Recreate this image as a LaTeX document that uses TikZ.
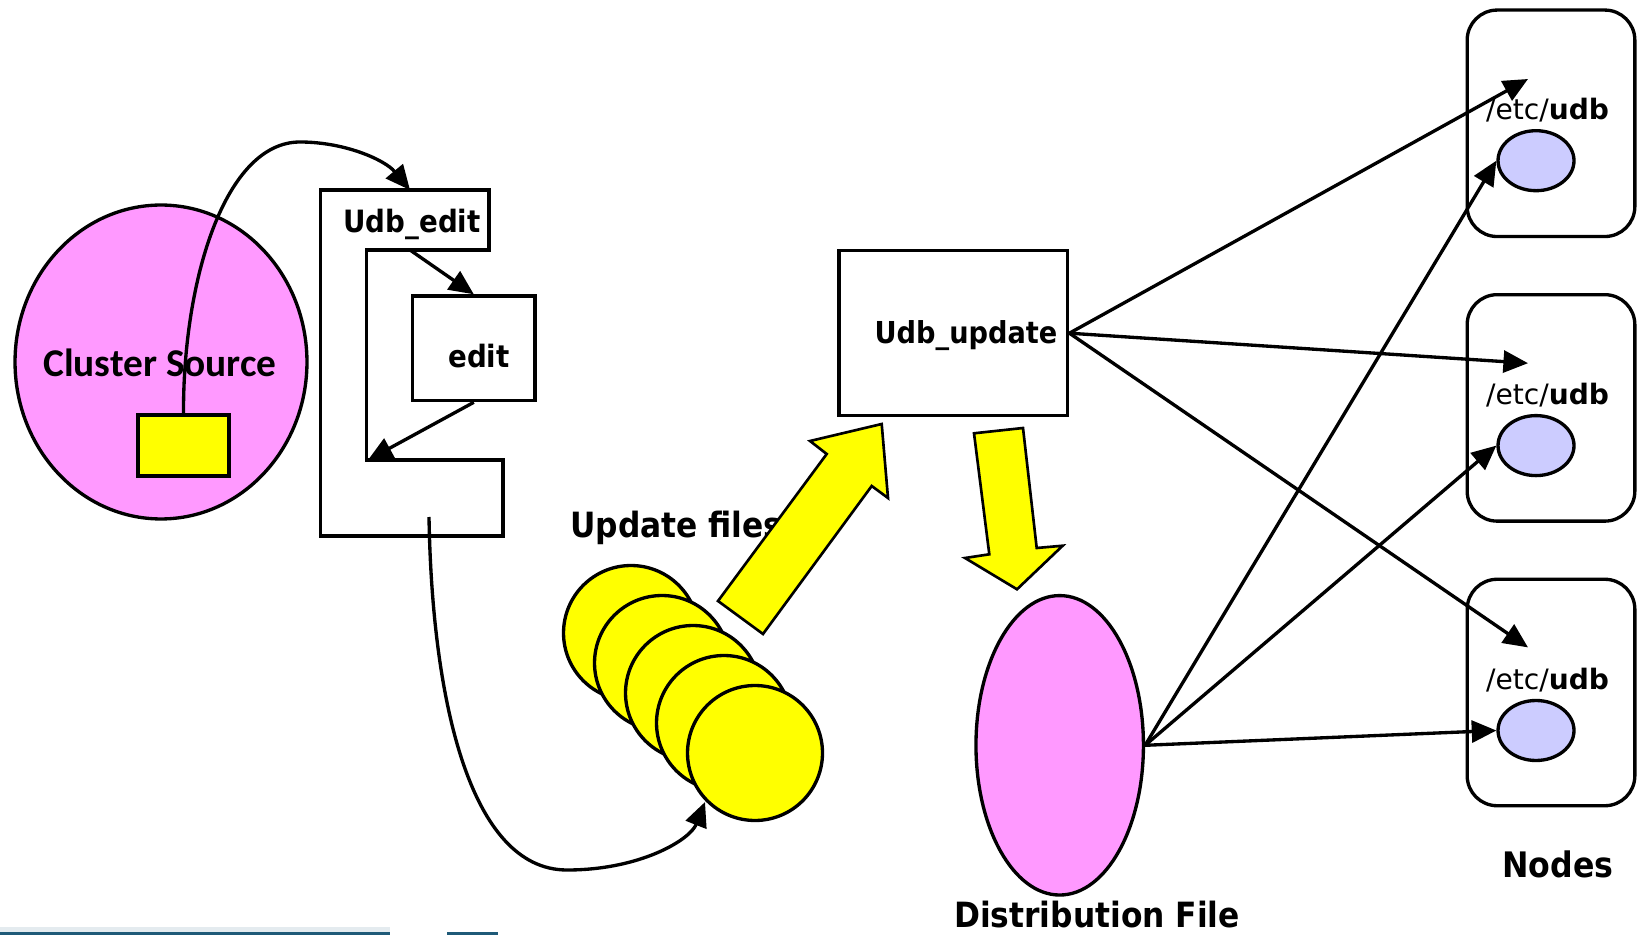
\documentclass[tikz,border=0pt]{standalone}
\usepackage{fontspec}
\setmainfont{DejaVu Sans Condensed}
\newfontfamily\widefont{DejaVu Sans}
\newfontfamily\srcfont{Carlito}
\usepackage{tikz}
\usetikzlibrary{arrows.meta,shapes.geometric}

\definecolor{srcpink}{HTML}{FF99FF}
\definecolor{fileyellow}{HTML}{FFFF00}
\definecolor{nodeblue}{HTML}{CCCCFF}
\definecolor{barblue}{HTML}{1F5A78}

\tikzset{
  outline/.style={draw=black, line width=1.9pt},
  blob/.style={outline, ellipse, inner sep=0pt},
  plainbox/.style={outline, rectangle, inner sep=0pt},
  nodebox/.style={outline, rectangle, rounded corners=0.6cm, inner sep=0pt,
    minimum width=3.354cm, minimum height=4.53cm},
  filedisk/.style={blob, fill=fileyellow, minimum width=2.7cm, minimum height=2.7cm},
  udbdisk/.style={blob, fill=nodeblue, minimum width=1.52cm, minimum height=1.2cm},
  conn/.style={line width=1.9pt, -{Triangle[length=14pt,width=12.5pt]}},
  bigarrow/.style={draw=black, line width=1.5pt, line join=miter, fill=fileyellow},
  txt/.style={inner sep=0pt, font=\bfseries\fontsize{19.8}{22}\selectfont},
  smalltxt/.style={inner sep=0pt, font=\bfseries\fontsize{17.5}{20}\selectfont},
}

\begin{document}
\begin{tikzpicture}[x=0.02cm,y=-0.02cm]
  \useasboundingbox (0,0) rectangle (1639,935);

  % cluster source
  \node[blob, fill=srcpink, minimum width=5.84cm, minimum height=6.28cm] (src) at (161,362) {};
  \node[inner sep=0pt, font=\srcfont\bfseries\fontsize{22.4}{25}\selectfont] (srctxt) at (160,363) {Cluster Source};
  \node[plainbox, fill=fileyellow, minimum width=1.82cm, minimum height=1.22cm] (srcbox) at (183.5,445.5) {};

  % udb_edit frame
  \draw[outline] (320.7,190) -- (489,190) -- (489,250) -- (366.7,250) -- (366.7,460)
    -- (503,460) -- (503,536) -- (320.7,536) -- cycle;
  \node[smalltxt, anchor=base] (uedit) at (412,233) {Udb\_edit};
  \coordinate (uetop) at (410,190);
  \coordinate (uelow) at (410,250);
  \coordinate (uestep) at (368,460);
  \coordinate (uebot) at (429,517);
  \node[plainbox, minimum width=2.446cm, minimum height=2.094cm] (edit) at (473.8,348.3) {};
  \node[smalltxt, anchor=base] (edittxt) at (479,368) {edit};

  \draw[conn] (srcbox.north) .. controls (183,280) and (225,142) .. (300,142)
    .. controls (345,142) and (385,160) .. (uetop);
  \draw[conn] (uelow) -- (edit.north);
  \draw[conn] (edit.south) -- (uestep);

  % update files
  \node[txt, anchor=base west] (updfiles) at (570,537) {Update files};
  \foreach \i in {0,...,4}
    \node[filedisk] (f\i) at ({631+31*\i},{633+30*\i}) {};
  \draw[conn] (uebot) .. controls (432,700) and (470,870) .. (567,870)
    .. controls (640,870) and (690,840) .. (705,802);
  \draw[bigarrow] (718,601) -- (826.7,454) -- (810,441) -- (881.7,424) -- (888,498)
    -- (871.7,486) -- (763,634) -- cycle;

  % udb_update
  \node[plainbox, minimum width=4.574cm, minimum height=3.3cm] (upd) at (953.4,333.2) {};
  \node[inner sep=0pt, font=\bfseries\fontsize{17.2}{20}\selectfont, anchor=base] (updtxt) at (966,344) {Udb\_update};
  \draw[bigarrow] (974,433.3) -- (1023,428) -- (1036.7,548) -- (1062.7,545.7) -- (1017,589.3)
    -- (965,558) -- (989.3,554.3) -- cycle;

  % distribution file
  \node[blob, fill=srcpink, minimum width=3.35cm, minimum height=5.99cm] (dist) at (1059.7,745.3) {};
  \node[txt, anchor=base] (disttxt) at (1097,927) {Distribution File};

  % nodes
  \foreach \i in {0,1,2}{
    \node[nodebox] (nd\i) at (1551,{123.3+284.6*\i}) {};
    \node[udbdisk] (e\i) at (1536,{160.7+284.9*\i}) {};
    \node[inner sep=0pt, anchor=base, font=\fontsize{16}{18}\selectfont\widefont] (etc\i)
      at (1547.5,{119.3+284.9*\i}) {/etc/\textbf{udb}};
    \coordinate (tip\i) at (1528,{79+284.2*\i});
  }
  \node[txt, font=\bfseries\fontsize{20}{22}\selectfont, anchor=base] (nodestxt) at (1558,877) {Nodes};

  \foreach \i in {0,1,2}{
    \draw[conn] (upd.east) -- (tip\i);
    \draw[conn] (dist.east) -- (e\i.west);
  }

  % slide bar
  \fill[barblue!12] (0,927) rectangle (390,932);
  \fill[barblue] (0,932) rectangle (390,935);
  \fill[barblue] (447,932) rectangle (498,935);
\end{tikzpicture}
\end{document}
